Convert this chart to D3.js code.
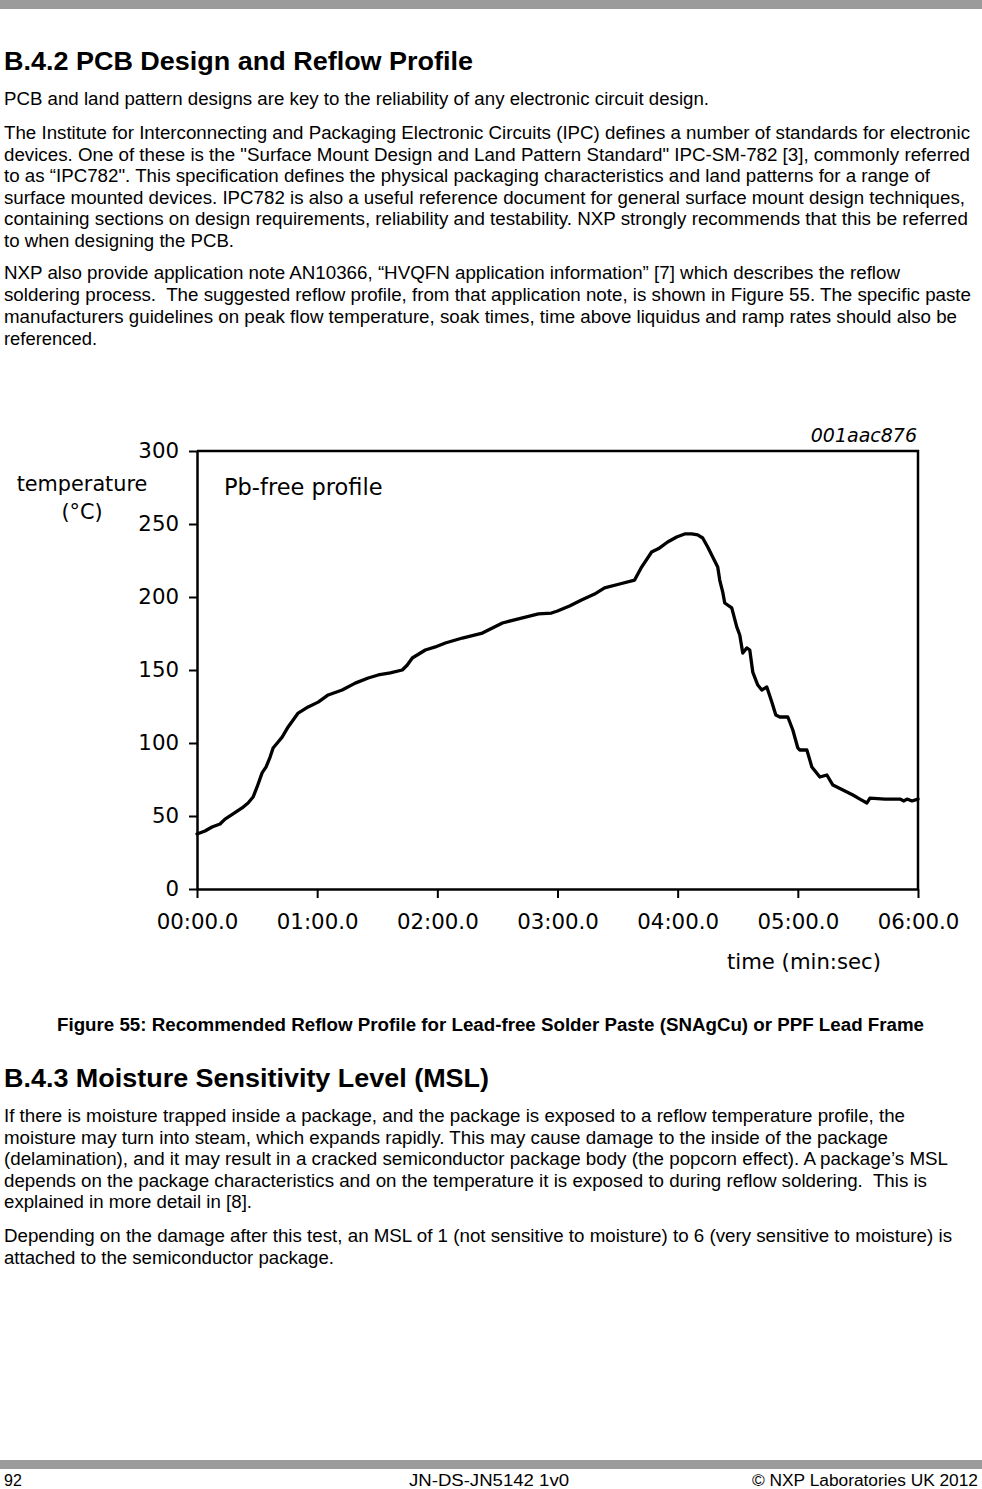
<!DOCTYPE html>
<html>
<head>
<meta charset="utf-8">
<script src="https://cdn.jsdelivr.net/npm/d3@7"></script>
<style>
  html, body { margin: 0; padding: 0; background: #fff; }
  svg { display: block; }
</style>
</head>
<body>
<svg id="page" width="982" height="1489"></svg>
<script>
// ---------- chart data ----------
const timeSec = [0, 4, 7.5, 11.5, 14, 18, 22.5, 25.5, 28, 30, 32.5, 34.5, 36.5, 38, 40.5, 42.5, 45.5, 48, 50.5, 55.5,
  60.5, 65.5, 72.5, 79, 85.5, 90.5, 96.5, 102.5, 105, 107.5, 114, 119, 124, 132.5, 142.5, 147.5, 152.5, 160.5, 170.5, 177,
  180, 186, 192, 198.5, 203.5, 211, 218.5, 222, 227, 231, 235, 239.5, 243.5, 247, 250, 252.5, 255, 257.5, 260, 261,
  262.5, 263.5, 267, 269.5, 271, 272.5, 274.5, 276, 277.5, 280, 282, 284.5, 287, 289, 291, 295, 297.5, 300, 301, 304.5,
  307, 309, 311, 314.5, 317.5, 322.5, 327.5, 331, 334.5, 336, 343.5, 351, 353, 354.5, 357, 360];
const tempC = [37.7, 39.7, 42.5, 44.5, 47.9, 51.4, 55.5, 58.9, 63, 69.9, 79.5, 83.6, 90.4, 96.6, 100.7, 104, 111, 115.8, 120.5, 124.7,
  128, 132.9, 136.3, 141, 144.5, 146.6, 148, 150, 153.4, 158.2, 163.7, 165.8, 168.5, 171.9, 175.3, 178.8, 182.2, 185, 188.4, 189,
  190.4, 193.8, 198, 202, 206.2, 208.9, 211.6, 220.5, 230.8, 233.6, 237.7, 241.1, 243.2, 243.2, 242.5, 240.4, 234.2, 227.4, 220.5, 211.6,
  203.4, 195.9, 192.5, 179.5, 174, 161.6, 165.1, 163.7, 148.6, 139.7, 136.3, 138.4, 128.1, 119.2, 117.8, 117.8, 108.9, 96.6, 95.2, 95.2,
  83.6, 80.1, 76.7, 78.1, 71.2, 67.8, 64.4, 61.6, 58.9, 62.3, 61.6, 61.6, 60.3, 61.6, 60.3, 61.6];
const yTicks = [0, 50, 100, 150, 200, 250, 300];
const xTicksSec = [0, 60, 120, 180, 240, 300, 360];
const xTickLabels = ["00:00.0", "01:00.0", "02:00.0", "03:00.0", "04:00.0", "05:00.0", "06:00.0"];
const chartId = "001aac876";
const chartTitle = "Pb-free profile";
const yLabel = ["temperature", "(\u00B0C)"];
const xLabel = "time (min:sec)";

// ---------- page text ----------
const heading1 = "B.4.2 PCB Design and Reflow Profile";
const para1 = ["PCB and land pattern designs are key to the reliability of any electronic circuit design."];
const para2 = [
  "The Institute for Interconnecting and Packaging Electronic Circuits (IPC) defines a number of standards for electronic",
  "devices. One of these is the \"Surface Mount Design and Land Pattern Standard\" IPC-SM-782 [3], commonly referred",
  "to as \u201CIPC782\". This specification defines the physical packaging characteristics and land patterns for a range of",
  "surface mounted devices. IPC782 is also a useful reference document for general surface mount design techniques,",
  "containing sections on design requirements, reliability and testability. NXP strongly recommends that this be referred",
  "to when designing the PCB."];
const para3 = [
  "NXP also provide application note AN10366, \u201CHVQFN application information\u201D [7] which describes the reflow",
  "soldering process.  The suggested reflow profile, from that application note, is shown in Figure 55. The specific paste",
  "manufacturers guidelines on peak flow temperature, soak times, time above liquidus and ramp rates should also be",
  "referenced."];
const caption = "Figure 55: Recommended Reflow Profile for Lead-free Solder Paste (SNAgCu) or PPF Lead Frame";
const heading2 = "B.4.3 Moisture Sensitivity Level (MSL)";
const para4 = [
  "If there is moisture trapped inside a package, and the package is exposed to a reflow temperature profile, the",
  "moisture may turn into steam, which expands rapidly. This may cause damage to the inside of the package",
  "(delamination), and it may result in a cracked semiconductor package body (the popcorn effect). A package\u2019s MSL",
  "depends on the package characteristics and on the temperature it is exposed to during reflow soldering.  This is",
  "explained in more detail in [8]."];
const para5 = [
  "Depending on the damage after this test, an MSL of 1 (not sensitive to moisture) to 6 (very sensitive to moisture) is",
  "attached to the semiconductor package."];
const footer = ["92", "JN-DS-JN5142 1v0", "\u00A9 NXP Laboratories UK 2012"];

// ---------- layout (positions / widths) ----------
const bodyFont = "'Liberation Sans', Arial, sans-serif";
const svg = d3.select("#page");

// header / footer bars
svg.append("rect").attr("x", 0).attr("y", 0).attr("width", 982).attr("height", 9).attr("fill", "#9b9b9b");
svg.append("rect").attr("x", 0).attr("y", 1460).attr("width", 982).attr("height", 9).attr("fill", "#9b9b9b");

function textBlock(lines, x, y0, lh, widths, opts = {}) {
  lines.forEach((s, i) => {
    const t = svg.append("text")
      .attr("x", x).attr("y", y0 + i * lh)
      .attr("font-family", bodyFont)
      .attr("font-size", opts.size || 17.5)
      .attr("font-weight", opts.weight || "normal")
      .attr("fill", "#000")
      .style("white-space", "pre")
      .text(s);
    if (widths && widths[i]) t.attr("textLength", widths[i]).attr("lengthAdjust", "spacingAndGlyphs");
  });
}

textBlock([heading1], 4, 70, 0, [469], { size: 26, weight: "bold" });
textBlock(para1, 4, 105, 21.5, [705]);
textBlock(para2, 4, 139, 21.5, [966, 966, 926, 961, 964, 230]);
textBlock(para3, 4, 279, 22, [896, 967, 953, 93]);
textBlock([caption], 57, 1031, 0, [867], { size: 17.5, weight: "bold" });
textBlock([heading2], 4, 1087, 0, [485], { size: 26, weight: "bold" });
textBlock(para4, 4, 1122, 21.5, [901, 884, 944, 923, 248]);
textBlock(para5, 4, 1242, 22, [948, 330]);

const footY = 1486;
svg.append("text").attr("x", 4).attr("y", footY).attr("font-family", bodyFont).attr("font-size", 16).text(footer[0]);
svg.append("text").attr("x", 489).attr("y", footY).attr("text-anchor", "middle").attr("font-family", bodyFont).attr("font-size", 16)
  .attr("textLength", 160).attr("lengthAdjust", "spacingAndGlyphs").text(footer[1]);
svg.append("text").attr("x", 978).attr("y", footY).attr("text-anchor", "end").attr("font-family", bodyFont).attr("font-size", 16)
  .attr("textLength", 226).attr("lengthAdjust", "spacingAndGlyphs").text(footer[2]);

// ---------- chart ----------
const chartFont = "'DejaVu Sans', Verdana, sans-serif";
const L = 197, R = 918, T = 451, B = 889;
const x = d3.scaleLinear().domain([0, 360]).range([L, R]);
const y = d3.scaleLinear().domain([0, 300]).range([B, T]);
const g = svg.append("g");

// frame (top & right)
g.append("path").attr("d", `M${L},${T}H${R}V${B}`).attr("fill", "none").attr("stroke", "#000").attr("stroke-width", 2.5);

const yAxis = g.append("g").attr("transform", `translate(${L},0)`)
  .call(d3.axisLeft(y).tickValues(yTicks).tickSize(8).tickPadding(10).tickSizeOuter(0));
const xAxis = g.append("g").attr("transform", `translate(0,${B})`)
  .call(d3.axisBottom(x).tickValues(xTicksSec).tickFormat((d, i) => xTickLabels[i]).tickSize(9).tickPadding(16).tickSizeOuter(0));
[yAxis, xAxis].forEach(a => {
  a.selectAll("path.domain").attr("stroke", "#000").attr("stroke-width", 2.5);
  a.selectAll(".tick line").attr("stroke", "#000").attr("stroke-width", 2);
  a.selectAll("text").attr("font-family", chartFont).attr("font-size", 21.3).attr("fill", "#000");
});

const pts = timeSec.map((t, i) => [t, tempC[i]]);
g.append("path").datum(pts)
  .attr("fill", "none").attr("stroke", "#000").attr("stroke-width", 3.3)
  .attr("stroke-linejoin", "round").attr("stroke-linecap", "round")
  .attr("d", d3.line().x(d => x(d[0])).y(d => y(d[1])).curve(d3.curveLinear));

g.append("text").attr("x", 917).attr("y", 442).attr("text-anchor", "end")
  .attr("font-family", chartFont).attr("font-size", 19).attr("font-style", "italic").text(chartId);
g.append("text").attr("x", 224).attr("y", 495)
  .attr("font-family", chartFont).attr("font-size", 22.5).text(chartTitle);
g.append("text").attr("x", 82).attr("y", 491).attr("text-anchor", "middle")
  .attr("font-family", chartFont).attr("font-size", 20.8).text(yLabel[0]);
g.append("text").attr("x", 82).attr("y", 519).attr("text-anchor", "middle")
  .attr("font-family", chartFont).attr("font-size", 20.8).text(yLabel[1]);
g.append("text").attr("x", 804).attr("y", 969).attr("text-anchor", "middle")
  .attr("font-family", chartFont).attr("font-size", 21.2).text(xLabel);
</script>
</body>
</html>
